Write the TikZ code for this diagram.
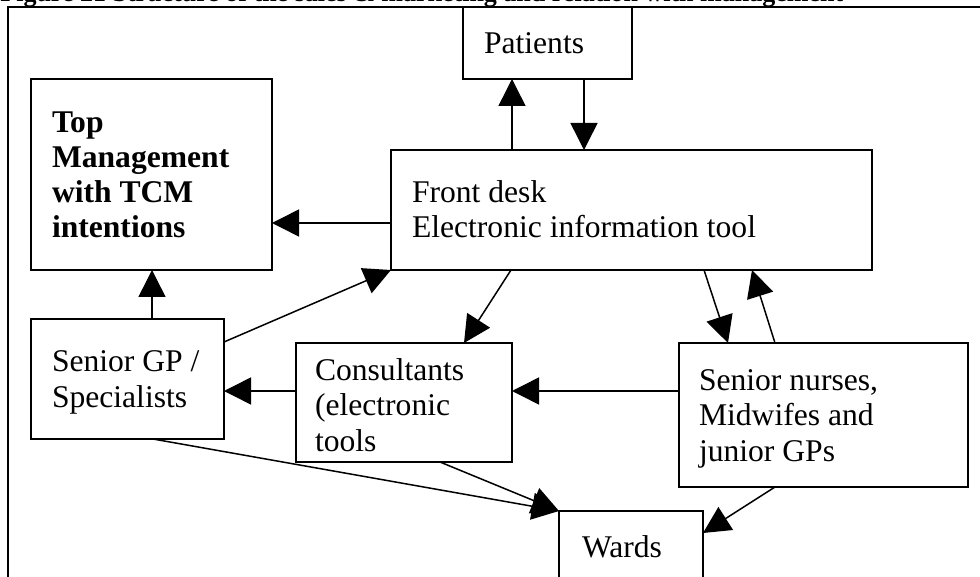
\documentclass[tikz,border=0pt]{standalone}
\usepackage{fontspec}
\setmainfont{Liberation Serif}
\usetikzlibrary{arrows.meta}
\tikzset{
  box/.style={draw, line width=0.75pt, rectangle, inner sep=0pt, outer sep=0pt, anchor=north west},
  % multi-line texts are placed by the baseline of their last line
  txt/.style={inner sep=0pt, outer sep=0pt, anchor=base west, align=left,
    font=\fontsize{15.8pt}{17.6pt}\selectfont},
  boldtxt/.style={txt, font=\fontsize{15.8pt}{17.6pt}\selectfont\bfseries},
  arr/.style={line width=0.75pt, -{Triangle[length=13.5pt,width=13.5pt]}},
  link/.style={line width=0.75pt}
}
\begin{document}
\begin{tikzpicture}[x=0.5pt, y=-0.5pt]
\useasboundingbox (0,0) rectangle (980,577);
\clip (0,0) rectangle (980,577);

% caption line, cut by the page edge
\node[inner sep=0pt, anchor=base west, font=\fontsize{13pt}{14pt}\selectfont\bfseries] (caption) at (0,1.5)
  {Figure 21 Structure of the sales \& marketing and relation with management};

% outer frame
\draw[line width=1pt] (8,600) -- (8,7) -- (990,7);

% boxes
\node[box, minimum width=84.5pt, minimum height=36pt] (pat) at (463,7) {};
\node[box, minimum width=240.5pt, minimum height=60pt] (fd) at (391,150) {};
\node[box, minimum width=120.5pt, minimum height=95.5pt] (top) at (31,79) {};
\node[box, minimum width=96.5pt, minimum height=60pt] (sgp) at (31,319) {};
\node[box, minimum width=108pt, minimum height=59.5pt] (con) at (296,343) {};
\node[box, minimum width=144.5pt, minimum height=72pt] (sn) at (679,343) {};
\node[box, minimum width=72pt, minimum height=50pt] (wards) at (559,511) {};

% texts
\node[txt] (patT) at (484,54) {Patients};
\node[txt] (fdT) at (412,238) {Front desk\\Electronic information tool};
\node[boldtxt] (topT) at (52,238) {Top\\Management\\with TCM\\intentions};
\node[txt] (sgpT) at (52,407) {Senior GP /\\Specialists};
\node[txt] (conT) at (315,451) {Consultants\\(electronic\\tools};
\node[txt] (snT) at (699,461) {Senior nurses,\\Midwifes and\\junior GPs};
\node[txt] (wardsT) at (582,557) {Wards};

% connectors
\draw[arr] ([xshift=60.5pt]fd.north west) -- ([xshift=24.5pt]pat.south west);
\draw[arr] ([xshift=60.5pt]pat.south west) -- ([xshift=96.5pt]fd.north west);
\draw[arr] ([yshift=-36.5pt]fd.north west) -- ([yshift=-72pt]top.north east);
\draw[arr] ([xshift=60.5pt]sgp.north west) -- ([xshift=60.5pt]top.south west);
\draw[arr] ([yshift=-11.5pt]sgp.north east) -- (fd.south west);
\draw[arr] ([xshift=60pt]fd.south west) -- ([xshift=84pt]con.north west);
\draw[arr] ([xshift=156.5pt]fd.south west) -- ([xshift=24.5pt]sn.north west);
\draw[arr] ([xshift=48pt]sn.north west) -- ([xshift=180.5pt]fd.south west);
\draw[arr] ([yshift=-24pt]sn.north west) -- ([yshift=-24pt]con.north east);
\draw[arr] ([yshift=-24pt]con.north west) -- ([yshift=-36pt]sgp.north east);
\draw[arr] ([xshift=61pt]sgp.south west) -- (wards.north west);
\draw[arr] ([xshift=72pt]con.south west) -- (wards.north west);
\draw[arr] ([xshift=48pt]sn.south west) -- ([yshift=-11pt]wards.north east);
\end{tikzpicture}
\end{document}
